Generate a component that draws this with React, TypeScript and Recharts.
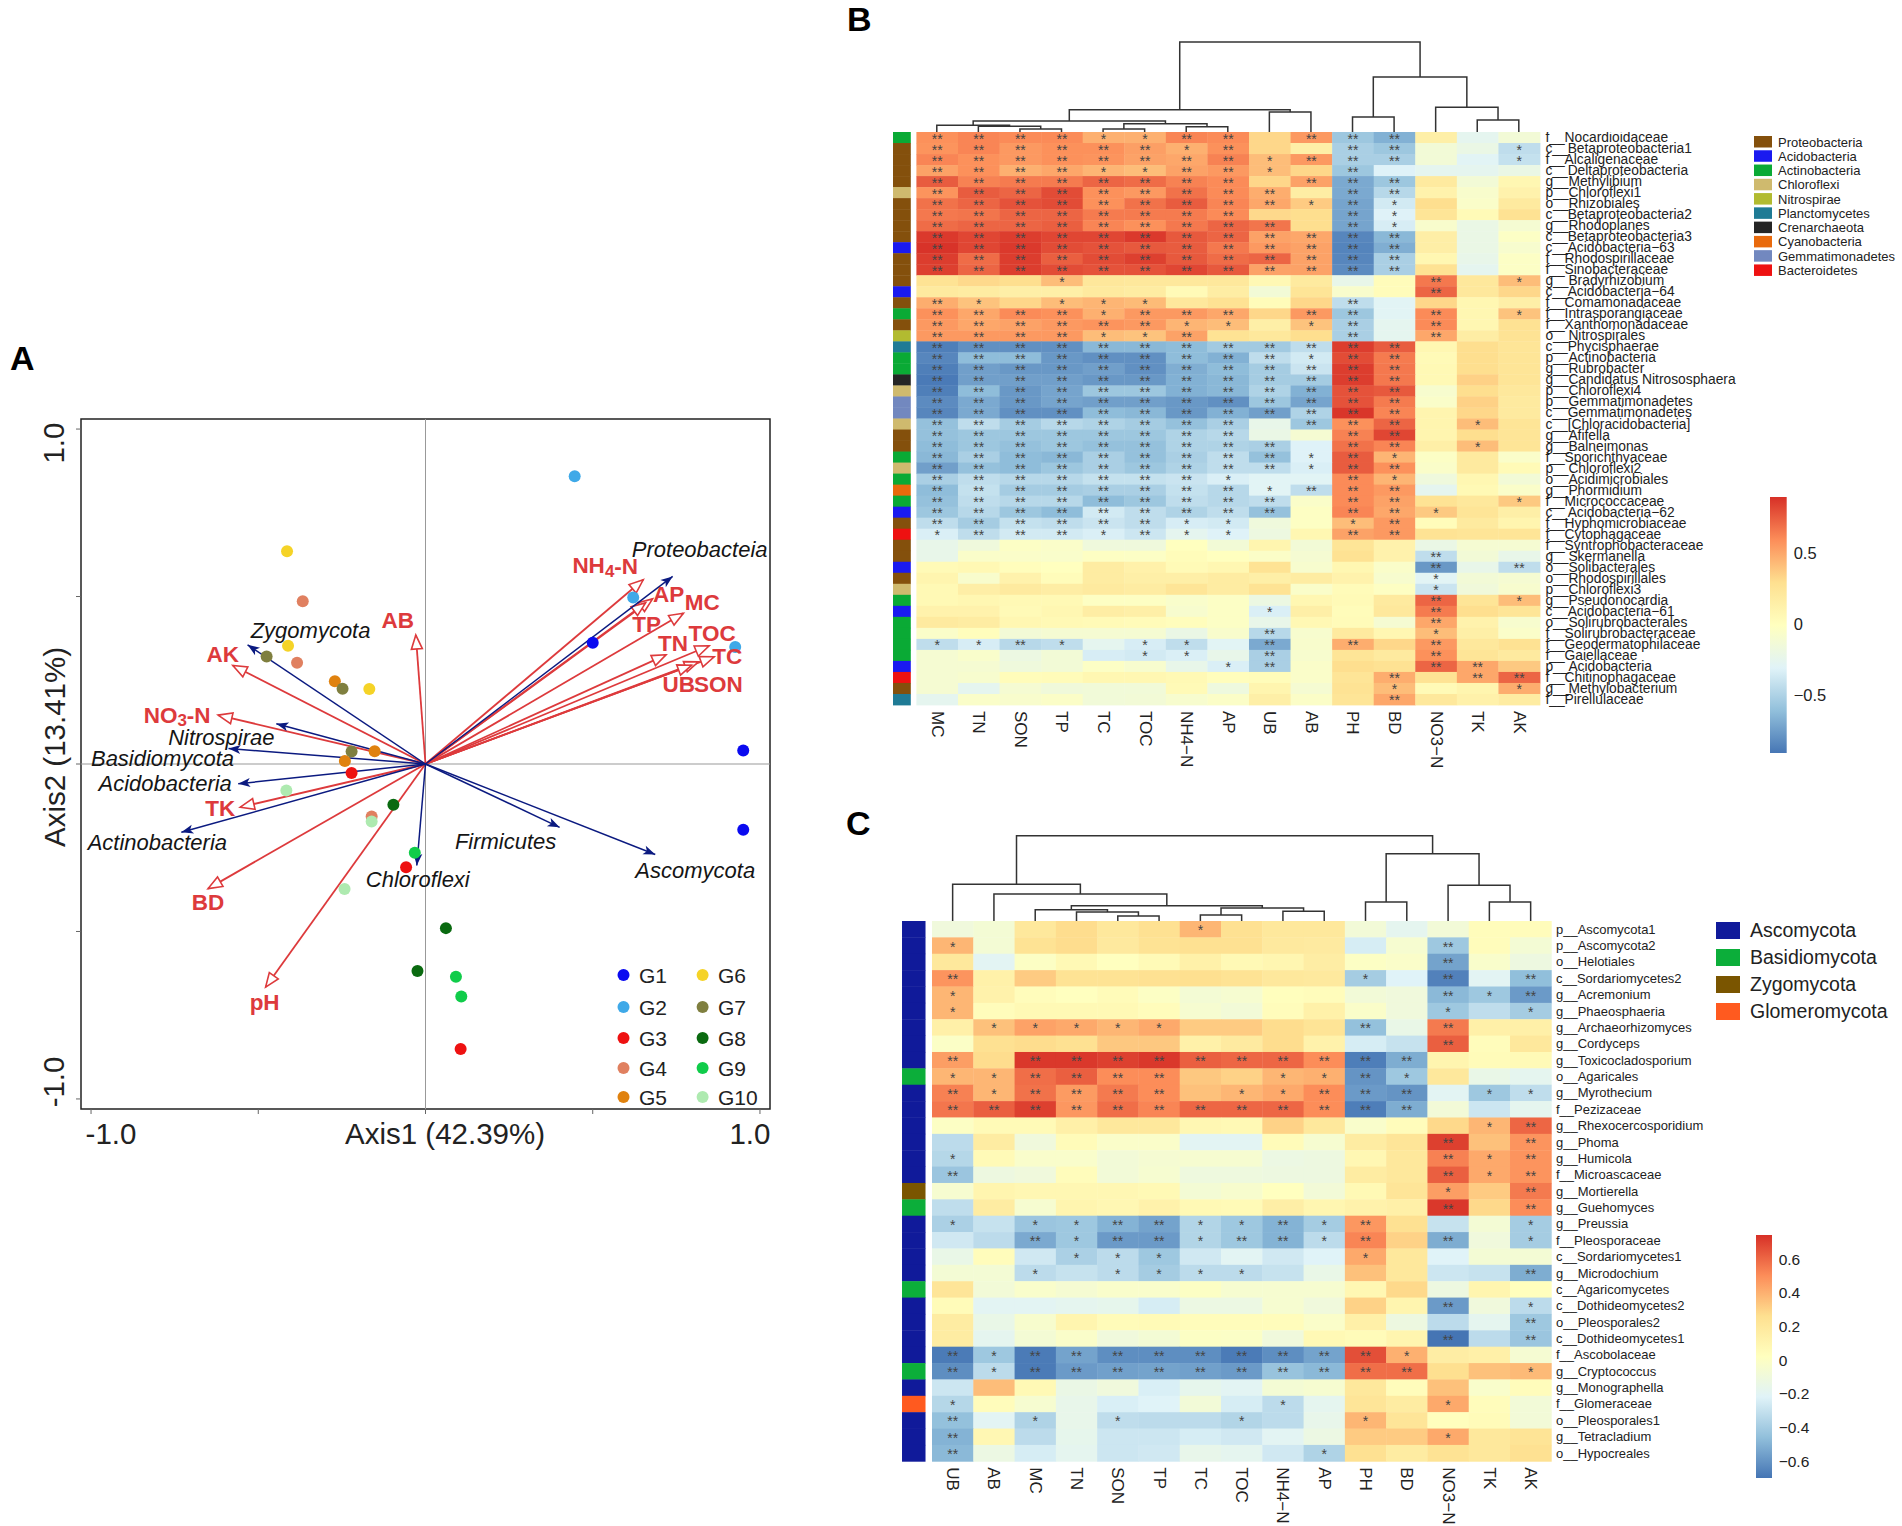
import { ScatterChart, Scatter, XAxis, YAxis, ReferenceLine, ReferenceArea } from "recharts";

const FONT = "'Liberation Sans', Arial, sans-serif";
const PALETTE = ["#4575B4", "#91BFDB", "#E0F3F8", "#FFFFBF", "#FEE090", "#FC8D59", "#D73027"];

// ---- panel A: ordination ----
const groups = ["G1", "G2", "G3", "G4", "G5", "G6", "G7", "G8", "G9", "G10"];
const groupColors = ["#0a0af0", "#3fa9e8", "#ee1111", "#e08060", "#e0820f", "#f5d327", "#7f7f3f", "#0a6a10", "#10cc4a", "#aeeab0"];
const groupX = [
  [0.5, 0.95, 0.95],
  [0.446, 0.621, 0.926],
  [-0.221, -0.058, 0.105],
  [-0.367, -0.384, -0.161],
  [-0.271, -0.152, -0.241],
  [-0.414, -0.411, -0.168],
  [-0.475, -0.248, -0.221],
  [-0.096, 0.061, -0.024],
  [-0.032, 0.091, 0.107],
  [-0.416, -0.161, -0.242],
];
const groupY = [
  [0.362, 0.04, -0.196],
  [0.859, 0.497, 0.349],
  [-0.027, -0.308, -0.851],
  [0.486, 0.302, -0.157],
  [0.247, 0.038, 0.009],
  [0.635, 0.353, 0.224],
  [0.321, 0.225, 0.037],
  [-0.122, -0.49, -0.618],
  [-0.265, -0.635, -0.694],
  [-0.079, -0.172, -0.373],
];

const envNames = ["NH4-N", "AP", "TP", "MC", "TOC", "TN", "TC", "SON", "UB", "AB", "AK", "NO3-N", "TK", "BD", "pH"];
const envX = [0.651, 0.679, 0.658, 0.771, 0.848, 0.719, 0.863, 0.816, 0.796, -0.029, -0.576, -0.62, -0.554, -0.65, -0.478];
const envY = [0.55, 0.493, 0.481, 0.45, 0.353, 0.326, 0.32, 0.305, 0.295, 0.385, 0.294, 0.146, -0.129, -0.372, -0.666];

const taxaNames = ["Proteobacteia", "Zygomycota", "Nitrospirae", "Basidiomycota", "Acidobacteria", "Actinobacteria", "Chloroflexi", "Firmicutes", "Ascomycota"];
const taxaX = [0.739, -0.532, -0.446, -0.589, -0.56, -0.73, -0.026, 0.401, 0.687];
const taxaY = [0.56, 0.356, 0.12, 0.046, -0.059, -0.204, -0.303, -0.189, -0.27];

// label nudges from the arrow tip, px
const LABEL_NUDGE: Record<string, number[]> = {
  "NH4-N": [-38, -14], AP: [16, -4], TP: [1, 22], MC: [19, -11], TOC: [3, -12], TN: [7, -11], TC: [13, 0], SON: [20, 23], UB: [-13, 19],
  AB: [-18, -15], AK: [-10, -11], "NO3-N": [-41, 0], TK: [-20, 1], BD: [0, 14], pH: [-1, 15],
  Proteobacteia: [27, -27], Zygomycota: [63, -14], Nitrospirae: [-55, 14], Basidiomycota: [-66, 10], Acidobacteria: [-73, 0],
  Actinobacteria: [-24, 10], Chloroflexi: [1, 14], Firmicutes: [-54, 14], Ascomycota: [40, 16],
};

// ---- panel B ----
const colsB = ["MC", "TN", "SON", "TP", "TC", "TOC", "NH4−N", "AP", "UB", "AB", "PH", "BD", "NO3−N", "TK", "AK"];
const rowsB = [
  "f__Nocardioidaceae", "c__Betaproteobacteria1", "f__Alcaligenaceae", "c__Deltaproteobacteria", "g__Methylibium", "p__Chloroflexi1", "o__Rhizobiales",
  "c__Betaproteobacteria2", "g__Rhodoplanes", "c__Betaproteobacteria3", "c__Acidobacteria−63", "f__Rhodospirillaceae", "f__Sinobacteraceae", "g__Bradyrhizobium",
  "c__Acidobacteria−64", "f__Comamonadaceae", "f__Intrasporangiaceae", "f__Xanthomonadaceae", "o__Nitrospirales", "c__Phycisphaerae", "p__Actinobacteria",
  "g__Rubrobacter", "g__Candidatus Nitrososphaera", "p__Chloroflexi4", "p__Gemmatimonadetes", "c__Gemmatimonadetes", "c__[Chloracidobacteria]", "g__Afifella",
  "g__Balneimonas", "f__Sporichthyaceae", "p__Chloroflexi2", "o__Acidimicrobiales", "g__Phormidium", "f__Micrococcaceae", "c__Acidobacteria−62", "f__Hyphomicrobiaceae",
  "f__Cytophagaceae", "f__Syntrophobacteraceae", "g__Skermanella", "o__Solibacterales", "o__Rhodospirillales", "p__Chloroflexi3", "g__Pseudonocardia", "c__Acidobacteria−61",
  "o__Solirubrobacterales", "f__Solirubrobacteraceae", "f__Geodermatophilaceae", "f__Gaiellaceae", "p__Acidobacteria", "f__Chitinophagaceae", "g__Methylobacterium", "f__Pirellulaceae",
];
const valuesB = [
  [.58, .62, .6, .6, .47, .47, .62, .6, .33, .55, -.55, -.65, .15, -.25, -.12],
  [.57, .62, .55, .58, .58, .53, .47, .58, .33, .15, -.5, -.55, -.12, -.2, -.42],
  [.62, .58, .55, .58, .57, .52, .5, .63, .42, .55, -.5, -.5, -.12, -.28, -.4],
  [.52, .58, .47, .5, .45, .42, .52, .55, .42, .33, -.55, -.3, -.25, -.25, -.2],
  [.75, .63, .65, .65, .72, .7, .63, .6, .33, .52, -.68, -.55, .2, -.12, .08],
  [.57, .75, .72, .8, .58, .55, .68, .6, .48, .17, -.68, -.45, .12, -.07, .12],
  [.68, .72, .78, .8, .58, .68, .75, .62, .5, .37, -.7, -.35, .3, -.05, .2],
  [.66, .67, .72, .72, .65, .65, .65, .6, .32, .3, -.7, -.3, .25, .05, .28],
  [.7, .72, .72, .74, .62, .58, .66, .72, .67, .3, -.7, -.33, -.07, -.2, -.1],
  [.86, .82, .85, .82, .82, .86, .76, .72, .52, .5, -.82, -.62, .16, -.2, -.03],
  [.88, .82, .86, .8, .78, .76, .75, .66, .55, .52, -.83, -.66, .16, -.2, -.08],
  [.85, .7, .85, .74, .8, .84, .76, .7, .72, .52, -.82, -.5, .08, -.22, -.03],
  [.84, .72, .85, .8, .78, .78, .82, .76, .52, .52, -.8, -.5, .28, -.25, -.03],
  [.27, .32, .3, .42, .23, .22, .22, .22, .07, .2, -.22, .03, .66, .22, .42],
  [.2, .18, .15, .15, .2, .18, .05, .17, -.12, .25, -.07, .03, .72, .22, .33],
  [.48, .4, .33, .42, .45, .43, .22, .28, .03, .33, -.42, -.28, .33, .08, .15],
  [.58, .5, .6, .58, .47, .55, .55, .5, .33, .55, -.55, -.28, .6, .08, .4],
  [.55, .5, .52, .55, .57, .55, .45, .42, .15, .4, -.5, -.25, .6, .08, .28],
  [.55, .55, .55, .55, .42, .4, .52, .27, .22, .3, -.5, -.25, .5, .17, .27],
  [-.85, -.78, -.78, -.78, -.62, -.62, -.6, -.53, -.53, -.42, .85, .75, .08, .3, .25],
  [-.82, -.6, -.6, -.75, -.78, -.78, -.6, -.65, -.42, -.35, .8, .65, .05, .3, .25],
  [-.85, -.72, -.75, -.75, -.72, -.78, -.66, -.6, -.52, -.38, .85, .66, .06, .3, .25],
  [-.87, -.72, -.72, -.72, -.75, -.75, -.65, -.62, -.52, -.52, .85, .66, .06, .35, .25],
  [-.85, -.6, -.75, -.7, -.55, -.55, -.65, -.62, -.48, -.65, .78, .76, -.08, .3, .22],
  [-.8, -.68, -.75, -.7, -.72, -.72, -.75, -.78, -.55, -.7, .78, .65, -.05, .35, .2],
  [-.82, -.68, -.78, -.78, -.6, -.62, -.75, -.65, -.72, -.48, .87, .62, .1, .33, .2],
  [-.58, -.42, -.52, -.45, -.48, -.52, -.58, -.5, -.22, -.55, .58, .72, .1, .42, .25],
  [-.58, -.55, -.55, -.55, -.55, -.55, -.48, -.45, -.2, -.1, .63, .82, .1, .3, .25],
  [-.6, -.55, -.58, -.55, -.58, -.58, -.48, -.48, -.5, -.3, .68, .62, .15, .42, .25],
  [-.62, -.5, -.6, -.62, -.5, -.58, -.5, -.42, -.58, -.3, .75, .45, -.03, .2, -.05],
  [-.72, -.58, -.6, -.55, -.5, -.55, -.48, -.42, -.42, -.32, .75, .58, -.05, .2, .05],
  [-.5, -.42, -.45, -.45, -.4, -.4, -.38, -.32, -.28, -.28, .6, .45, -.15, .08, -.12],
  [-.6, -.4, -.52, -.52, -.5, -.5, -.4, -.45, -.28, -.42, .6, .55, -.25, .06, -.05],
  [-.58, -.42, -.45, -.45, -.6, -.55, -.42, -.45, -.42, -.05, .6, .52, .27, .22, .38],
  [-.55, -.45, -.55, -.6, -.35, -.42, -.48, -.42, -.58, -.02, .62, .5, .38, .25, .15],
  [-.42, -.52, -.4, -.42, -.38, -.42, -.33, -.35, -.15, -.02, .42, .55, .03, .2, .1],
  [-.32, -.42, -.35, -.35, -.32, -.37, -.25, -.3, -.17, .08, .52, .55, .27, .25, .25],
  [-.22, -.15, -.03, -.05, -.15, -.15, 0, -.12, .1, -.12, .25, .12, -.2, -.1, -.1],
  [-.22, -.05, -.05, -.06, -.02, -.03, .03, 0, -.04, -.1, .28, .12, -.42, -.12, -.22],
  [.05, .07, .02, 0, .18, .13, .05, .08, .27, -.08, .08, -.05, -.75, -.22, -.42],
  [.1, -.07, .12, .03, .18, .15, .15, .18, .15, .18, .12, -.08, -.28, -.12, -.1],
  [.06, .16, .2, .17, .2, .18, .25, .18, .27, -.05, .04, -.02, -.38, -.14, -.08],
  [.06, .08, .06, .06, -.02, -.02, -.06, -.03, -.18, .08, .05, .2, .72, .25, .42],
  [.12, .12, .05, .08, .17, .15, -.08, -.03, -.32, .15, .03, .22, .65, .3, .25],
  [.2, .18, .08, .06, .05, .04, .02, -.03, -.22, .07, .04, -.1, .5, .12, -.08],
  [-.05, .02, -.12, -.1, -.1, -.1, -.2, -.07, -.45, -.08, .2, .08, .42, .15, -.05],
  [-.42, -.33, -.45, -.42, -.25, -.33, -.42, -.28, -.68, -.07, .48, .33, .55, .22, .28],
  [-.1, -.06, -.18, -.12, -.33, -.35, -.32, -.22, -.5, -.08, .25, .2, .58, .25, .2],
  [-.1, -.1, -.15, -.12, -.03, -.08, -.22, -.32, -.5, -.05, .3, .28, .72, .5, .38],
  [-.1, -.08, .03, .04, .08, .08, .06, .02, .03, -.05, .25, .48, .27, .5, .72],
  [-.1, -.25, -.1, -.14, -.13, -.13, .05, -.16, .1, -.1, .27, .42, .05, .1, .48],
  [-.25, -.05, -.07, -.04, -.13, -.12, -.08, -.04, .15, -.04, .25, .5, .22, .13, .18],
];
// 0 none, 1 *, 2 **
const starsB = [
  "222211220222000", "222222120022001", "222222221222001", "222211221020000", "222222220222000", "222222222022000", "222222222121000", "222222220021000",
  "222222222021000", "222222222222000", "222222222222000", "222222222222000", "222222222222000", "000100000000201", "000000000000200", "210111000020000",
  "222212220220201", "222222110120200", "222211200020200", "222222222222000", "222222222122000", "222222222222000", "222222222222000", "222222222222000",
  "222222222222000", "222222222222000", "222222220222010", "222222220022000", "222222222022010", "222222222121000", "222222222122000", "222222210021000",
  "222222221222000", "222222222022001", "222222222022100", "222222110012000", "122212110022000", "000000000000000", "000000000000200", "000000000000202",
  "000000000000100", "000000000000100", "000000000000201", "000000001000200", "000000000000200", "000000002000100", "112101102020200", "000001102000200",
  "000000012000220", "000000000002022", "000000000001001", "000000000002000",
];
const phylaB = ["Proteobacteria", "Acidobacteria", "Actinobacteria", "Chloroflexi", "Nitrospirae", "Planctomycetes", "Crenarchaeota", "Cyanobacteria", "Gemmatimonadetes", "Bacteroidetes"];
const phylaBColors = ["#84500c", "#1a1af0", "#0aaa35", "#cfba6e", "#b2bb30", "#1f7b95", "#252525", "#e96a0c", "#7288bf", "#ee1111"];
// index into phylaB for every row
const rowPhylaB = [2, 0, 0, 0, 0, 3, 0, 0, 0, 0, 1, 0, 0, 0, 1, 0, 2, 0, 4, 5, 2, 2, 6, 3, 8, 8, 3, 0, 0, 2, 3, 2, 7, 2, 1, 0, 9, 0, 0, 1, 0, 3, 2, 1, 2, 2, 2, 2, 1, 9, 0, 5];
// [left, right, height]; refs under 15 are columns, the rest earlier merges
const mergesB = [[2, 3, 3], [1, 15, 5.7], [0, 16, 6.7], [4, 5, 3], [6, 7, 5.3], [18, 19, 8.3], [17, 20, 11], [8, 9, 20], [21, 22, 22.3], [10, 11, 15], [13, 14, 12], [12, 25, 24.7], [24, 26, 55], [23, 27, 90]];

// ---- panel C ----
const colsC = ["UB", "AB", "MC", "TN", "SON", "TP", "TC", "TOC", "NH4−N", "AP", "PH", "BD", "NO3−N", "TK", "AK"];
const rowsC = [
  "p__Ascomycota1", "p__Ascomycota2", "o__Helotiales", "c__Sordariomycetes2", "g__Acremonium", "g__Phaeosphaeria", "g__Archaeorhizomyces", "g__Cordyceps", "g__Toxicocladosporium",
  "o__Agaricales", "g__Myrothecium", "f__Pezizaceae", "g__Rhexocercosporidium", "g__Phoma", "g__Humicola", "f__Microascaceae", "g__Mortierella", "g__Guehomyces", "g__Preussia",
  "f__Pleosporaceae", "c__Sordariomycetes1", "g__Microdochium", "c__Agaricomycetes", "c__Dothideomycetes2", "o__Pleosporales2", "c__Dothideomycetes1", "f__Ascobolaceae",
  "g__Cryptococcus", "g__Monographella", "f__Glomeraceae", "o__Pleosporales1", "g__Tetracladium", "o__Hypocreales",
];
const valuesC = [
  [-.1, -.07, .2, .27, .2, .25, .38, .25, .2, .2, -.08, -.18, -.08, .04, .04],
  [.38, -.07, .24, .27, .19, .24, .25, .25, .19, .18, -.25, -.05, -.42, .04, -.07],
  [.2, -.2, 0, .07, .02, .06, .13, .07, .09, .16, 0, -.02, -.55, -.03, -.12],
  [.48, .13, .32, .24, .24, .25, .26, .24, .2, .19, -.4, -.22, -.66, -.2, -.46],
  [.38, .12, .04, .02, .05, 0, -.07, -.05, .03, .04, -.08, -.1, -.48, -.42, -.58],
  [.38, .04, .07, .07, .07, .04, -.05, -.08, .04, .13, -.02, -.1, -.42, -.32, -.4],
  [.14, .35, .44, .42, .38, .42, .32, .32, .27, .23, -.45, -.15, .55, .14, .14],
  [-.01, .25, .27, .25, .33, .33, .13, .18, .27, .12, -.25, -.3, .62, .04, .2],
  [.45, .27, .72, .72, .7, .72, .62, .6, .6, .5, -.67, -.52, .1, .05, .06],
  [.38, .38, .58, .62, .5, .5, .33, .3, .38, .4, -.6, -.42, .2, -.15, -.18],
  [.53, .38, .57, .46, .55, .5, .35, .38, .42, .5, -.58, -.6, -.2, -.42, -.32],
  [.56, .62, .7, .47, .58, .52, .6, .6, .6, .5, -.67, -.52, -.08, -.28, -.18],
  [0, .06, .06, .14, .2, .2, .08, .07, .3, .2, -.03, .04, .28, .38, .6],
  [-.33, .17, -.1, .05, -.02, -.02, -.2, -.2, .05, -.05, .17, .22, .7, .35, .48],
  [-.35, .06, -.03, -.03, -.08, -.06, -.05, -.05, -.13, -.12, .08, .2, .53, .42, .48],
  [-.43, -.12, -.1, .04, -.08, -.05, -.11, -.11, -.12, -.12, .17, .2, .62, .42, .48],
  [-.05, .1, .08, .08, .08, .07, -.07, -.04, .02, -.08, .07, .22, .45, .32, .55],
  [-.32, .17, -.05, .1, .08, .12, .07, .06, .15, .09, .12, .14, .72, .28, .5],
  [-.38, -.3, -.43, -.42, -.5, -.55, -.36, -.42, -.5, -.4, .47, .25, -.3, -.07, -.4],
  [-.27, -.33, -.53, -.42, -.58, -.58, -.36, -.42, -.5, -.33, .52, .3, -.52, -.1, -.4],
  [-.15, .04, -.27, -.38, -.33, -.42, -.27, -.2, -.27, -.22, .42, .2, -.22, -.07, -.07],
  [-.07, -.07, -.33, -.3, -.33, -.4, -.33, -.33, -.3, -.15, .35, .2, -.28, -.3, -.52],
  [.22, -.08, -.03, -.06, -.03, -.03, 0, -.05, -.05, -.05, .08, .28, -.12, .1, .03],
  [.05, -.2, -.2, -.18, -.17, -.25, -.13, -.13, -.05, -.1, .3, .1, -.58, -.1, -.33],
  [.17, -.15, -.04, .1, .05, .06, .04, .04, .04, -.02, .14, -.12, -.33, -.18, -.42],
  [.17, -.18, -.07, -.02, -.1, -.07, 0, -.01, -.1, .07, .05, .1, -.7, -.33, -.43],
  [-.68, -.42, -.68, -.55, -.62, -.62, -.62, -.68, -.62, -.55, .66, .4, .16, .14, -.06],
  [-.62, -.33, -.68, -.58, -.56, -.55, -.56, -.58, -.44, -.48, .58, .58, .26, .35, .37],
  [-.28, .36, .07, -.14, -.1, -.24, -.17, -.2, -.07, -.05, .2, .04, .35, -.03, .04],
  [-.35, .04, -.05, -.16, -.24, -.22, -.08, -.25, -.33, -.18, .22, .17, .42, .04, -.08],
  [-.45, -.2, -.37, -.16, -.32, -.33, -.33, -.36, -.33, -.16, .38, .22, .03, .05, -.08],
  [-.5, .08, -.33, -.17, -.28, -.28, -.25, -.27, -.2, -.13, .32, .32, .42, .2, .23],
  [-.48, -.13, -.25, -.18, -.28, -.27, -.16, -.18, -.27, -.37, .25, .17, .24, .2, .25],
];
const starsC = [
  "000000100000000", "100000000000200", "000000000000200", "200000000010202", "100000000000212", "100000000000101", "011111000020200", "000000000000200", "202222222222000",
  "112222001121000", "212222011222011", "222222222222000", "000000000000012", "000000000000202", "100000000000212", "200000000000212", "000000000000102", "000000000000202",
  "101122112120001", "002122122120201", "000111000010000", "001011110000002", "000000000000000", "000000000000201", "000000000000002", "000000000000202",
  "212222222221000", "212222222222001", "000000000000000", "100000001000100", "201010010010000", "200000000000100", "200000000100000",
];
const phylaC = ["Ascomycota", "Basidiomycota", "Zygomycota", "Glomeromycota"];
const phylaCColors = ["#101a9a", "#0cae3a", "#7a5500", "#ff5a1f"];
const rowPhylaC = [0, 0, 0, 0, 0, 0, 0, 0, 0, 1, 0, 0, 0, 0, 0, 0, 2, 1, 0, 0, 0, 0, 1, 0, 0, 0, 0, 1, 0, 3, 0, 0, 0];
const mergesC = [[4, 5, 5], [3, 15, 9], [2, 16, 11.3], [6, 7, 6], [8, 9, 9.7], [18, 19, 13], [17, 20, 15.3], [1, 21, 27], [0, 22, 36.7], [10, 11, 19], [13, 14, 19], [12, 25, 35.7], [24, 26, 67.3], [23, 27, 85.3]];

const ticksB = [-0.5, 0, 0.5];
const ticksC = [-0.6, -0.4, -0.2, 0, 0.2, 0.4, 0.6];

function colorFor(v: number, lo: number, hi: number) {
  const t = Math.max(0, Math.min(0.9999, (v - lo) / (hi - lo))) * (PALETTE.length - 1);
  const i = Math.floor(t);
  const f = t - i;
  const a = PALETTE[i];
  const b = PALETTE[i + 1];
  const mix = (p: number) => Math.round(parseInt(a.slice(p, p + 2), 16) * (1 - f) + parseInt(b.slice(p, p + 2), 16) * f);
  return `rgb(${mix(1)},${mix(3)},${mix(5)})`;
}

function buildCells(values: number[][], stars: string[]) {
  const cells: any[] = [];
  values.forEach((row, r) => row.forEach((value, c) => cells.push({ x: c + 0.5, y: r + 0.5, value, star: "*".repeat(Number(stars[r][c])) })));
  return cells;
}

function dendroLines(merges: number[][]) {
  const nodes: { x: number; h: number }[] = [];
  for (let i = 0; i < 15; i++) nodes.push({ x: i + 0.5, h: 0 });
  return merges.map(([l, r, h]) => {
    const a = nodes[l];
    const b = nodes[r];
    nodes.push({ x: (a.x + b.x) / 2, h });
    return [{ x: a.x, y: a.h }, { x: a.x, y: h }, { x: b.x, y: h }, { x: b.x, y: b.h }];
  });
}

function Dendro({ left, top, width, height, merges }: any) {
  return (
    <div style={{ position: "absolute", left, top }}>
      <ScatterChart width={width} height={height} margin={{ top: 0, right: 0, bottom: 0, left: 0 }}>
        <XAxis hide type="number" dataKey="x" domain={[0, 15]} />
        <YAxis hide type="number" dataKey="y" domain={[0, height]} />
        {dendroLines(merges).map((pts, i) => (
          <Scatter key={i} data={pts} line={{ stroke: "#333", strokeWidth: 1.5 }} shape={() => <g />} isAnimationActive={false} />
        ))}
      </ScatterChart>
    </div>
  );
}

function Heatmap({ left, top, plotW, plotH, colW, xMin, annotX, annotW, cols, rows, values, stars, rowPhyla, phylaColors, lo, hi, labelDx, xLabelDy, rowFont, colFont }: any) {
  const rowH = plotH / rows.length;
  const cells = buildCells(values, stars);
  const annot = rowPhyla.map((p: number, r: number) => ({ x: annotX, y: r + 0.5, fill: phylaColors[p] }));
  return (
    <div style={{ position: "absolute", left, top }}>
      <ScatterChart width={plotW + 320} height={plotH + 90} margin={{ top: 0, right: 0, bottom: 0, left: 0 }}>
        <XAxis
          type="number"
          dataKey="x"
          domain={[xMin, 15]}
          ticks={cols.map((_: string, i: number) => i + 0.5)}
          interval={0}
          height={90}
          axisLine={false}
          tickLine={false}
          tick={(p: any) => (
            <text key={p.index} transform={`rotate(90 ${p.x} ${p.y + xLabelDy})`} x={p.x} y={p.y + xLabelDy} fontSize={colFont} fontFamily={FONT} fill="#222" dominantBaseline="central">
              {cols[p.payload.value - 0.5]}
            </text>
          )}
        />
        <YAxis
          type="number"
          dataKey="y"
          orientation="right"
          reversed
          domain={[0, rows.length]}
          ticks={rows.map((_: string, i: number) => i + 0.5)}
          interval={0}
          width={320}
          axisLine={false}
          tickLine={false}
          tick={(p: any) => (
            <text key={p.index} x={p.x + labelDx} y={p.y} fontSize={rowFont} fontFamily={FONT} fill="#222" dominantBaseline="central">
              {rows[p.payload.value - 0.5]}
            </text>
          )}
        />
        <Scatter
          data={annot}
          isAnimationActive={false}
          shape={(p: any) => <rect x={p.cx - annotW / 2} y={p.cy - rowH / 2} width={annotW} height={rowH + 0.4} fill={p.payload.fill} />}
        />
        <Scatter
          data={cells}
          isAnimationActive={false}
          shape={(p: any) => <rect x={p.cx - colW / 2} y={p.cy - rowH / 2} width={colW + 0.4} height={rowH + 0.4} fill={colorFor(p.payload.value, lo, hi)} />}
        />
        <Scatter
          data={cells.filter((c) => c.star)}
          isAnimationActive={false}
          shape={(p: any) => (
            <text x={p.cx} y={p.cy + 6} textAnchor="middle" fontSize={14} fontFamily={FONT} fill="#444">
              {p.payload.star}
            </text>
          )}
        />
      </ScatterChart>
    </div>
  );
}

function ColorBar({ id, left, top, width, height, lo, hi, ticks, fontSize, labelDx }: any) {
  return (
    <div style={{ position: "absolute", left, top }}>
      <svg width={0} height={0} style={{ position: "absolute" }}>
        <defs>
          <linearGradient id={id} x1="0" y1="1" x2="0" y2="0">
            {PALETTE.map((c, i) => (
              <stop key={c} offset={i / (PALETTE.length - 1)} stopColor={c} />
            ))}
          </linearGradient>
        </defs>
      </svg>
      <ScatterChart width={width + 60} height={height} margin={{ top: 0, right: 0, bottom: 0, left: 0 }}>
        <XAxis hide type="number" dataKey="x" domain={[0, 1]} allowDataOverflow />
        <YAxis
          type="number"
          dataKey="y"
          orientation="right"
          width={60}
          domain={[lo, hi]}
          ticks={ticks}
          interval={0}
          axisLine={false}
          tickLine={false}
          allowDataOverflow
          tick={(p: any) => (
            <text key={p.index} x={p.x + labelDx} y={p.y} fontSize={fontSize} fontFamily={FONT} fill="#222" dominantBaseline="central">
              {String(p.payload.value).replace("-", "−")}
            </text>
          )}
        />
        <Scatter data={[{ x: 0, y: lo }, { x: 1, y: hi }]} shape={() => <g />} isAnimationActive={false} />
        <ReferenceArea x1={0} x2={1} y1={lo} y2={hi} fill={`url(#${id})`} fillOpacity={1} stroke="none" />
      </ScatterChart>
    </div>
  );
}

function envShape(p: any) {
  if (p.payload.origin) return <g />;
  const deg = (Math.atan2(-p.payload.y, p.payload.x) * 180) / Math.PI;
  return <polygon transform={`translate(${p.cx} ${p.cy}) rotate(${deg})`} points="0,0 -14,-5.5 -14,5.5" fill="#fff" stroke="#dd3a3c" strokeWidth={1.6} />;
}

function taxaShape(p: any) {
  if (p.payload.origin) return <g />;
  const deg = (Math.atan2(-p.payload.y, p.payload.x) * 180) / Math.PI;
  return <polygon transform={`translate(${p.cx} ${p.cy}) rotate(${deg})`} points="0,0 -12,-4.5 -9,0 -12,4.5" fill="#0b1a80" />;
}

function labelShape(p: any) {
  const [dx, dy] = LABEL_NUDGE[p.payload.name];
  const parts = p.payload.name.match(/^(\D+)(\d)(.*)$/);
  const common = { x: p.cx + dx, y: p.cy + dy, textAnchor: "middle" as const, dominantBaseline: "central" as const, fontFamily: FONT };
  if (p.payload.kind === "taxa") {
    return <text {...common} fontSize={22} fontStyle="italic" fill="#151515">{p.payload.name}</text>;
  }
  return (
    <text {...common} fontSize={22.5} fontWeight="bold" fill="#dd3a3c">
      {parts ? (
        <>
          {parts[1]}
          <tspan dy={5} fontSize={17}>{parts[2]}</tspan>
          <tspan dy={-5}>{parts[3]}</tspan>
        </>
      ) : (
        p.payload.name
      )}
    </text>
  );
}

function PanelA() {
  const envLabels = envNames.map((name, i) => ({ name, x: envX[i], y: envY[i], kind: "env" }));
  const taxaLabels = taxaNames.map((name, i) => ({ name, x: taxaX[i], y: taxaY[i], kind: "taxa" }));
  return (
    <div style={{ position: "absolute", left: 0, top: 400 }}>
      <ScatterChart width={790} height={770} margin={{ top: 19, right: 20, bottom: 0, left: 0 }}>
        <XAxis
          type="number"
          dataKey="x"
          domain={[-1.03, 1.03]}
          ticks={[-1, -0.5, 0, 0.5, 1]}
          interval={0}
          height={61}
          axisLine={false}
          tickSize={5}
          tick={(p: any) =>
            Math.abs(p.payload.value) === 1 ? (
              <text key={p.index} x={p.x + (p.payload.value < 0 ? 20 : -10)} y={p.y + 28} textAnchor="middle" fontSize={29.5} fontFamily={FONT} fill="#222">
                {p.payload.value < 0 ? "-1.0" : "1.0"}
              </text>
            ) : (
              <g key={p.index} />
            )
          }
        />
        <YAxis
          type="number"
          dataKey="y"
          domain={[-1.03, 1.03]}
          ticks={[-1, -0.5, 0, 0.5, 1]}
          interval={0}
          width={81}
          axisLine={false}
          tickSize={5}
          tick={(p: any) => {
            if (Math.abs(p.payload.value) !== 1) return <g key={p.index} />;
            const cy = p.y + (p.payload.value < 0 ? -17 : 14);
            return (
              <text key={p.index} transform={`rotate(-90 64 ${cy})`} x={64} y={cy} textAnchor="middle" fontSize={29.5} fontFamily={FONT} fill="#222">
                {p.payload.value < 0 ? "-1.0" : "1.0"}
              </text>
            );
          }}
        />
        <ReferenceLine x={0} stroke="#999" strokeWidth={1} />
        <ReferenceLine y={0} stroke="#999" strokeWidth={1} />
        <ReferenceArea x1={-1.03} x2={1.03} y1={-1.03} y2={1.03} fill="none" stroke="#222" strokeWidth={1.5} />
        {envNames.map((name, i) => (
          <Scatter
            key={name}
            data={[{ x: 0, y: 0, origin: true }, { x: envX[i], y: envY[i] }]}
            line={{ stroke: "#dd3a3c", strokeWidth: 1.8 }}
            shape={envShape}
            isAnimationActive={false}
          />
        ))}
        {taxaNames.map((name, i) => (
          <Scatter
            key={name}
            data={[{ x: 0, y: 0, origin: true }, { x: taxaX[i], y: taxaY[i] }]}
            line={{ stroke: "#0b1a80", strokeWidth: 1.5 }}
            shape={taxaShape}
            isAnimationActive={false}
          />
        ))}
        {groups.map((g, i) => (
          <Scatter
            key={g}
            data={groupX[i].map((x, k) => ({ x, y: groupY[i][k] }))}
            isAnimationActive={false}
            shape={(p: any) => <circle cx={p.cx} cy={p.cy} r={6} fill={groupColors[i]} />}
          />
        ))}
        <Scatter data={envLabels} shape={labelShape} isAnimationActive={false} />
        <Scatter data={taxaLabels} shape={labelShape} isAnimationActive={false} />
      </ScatterChart>
    </div>
  );
}

function TextLayer() {
  const legendRows = [975, 1007, 1038, 1068, 1097];
  return (
    <svg width={1902} height={1526} style={{ position: "absolute", left: 0, top: 0, pointerEvents: "none" }} fontFamily={FONT}>
      <text x={10} y={370} fontSize={34} fontWeight="bold" fill="#000">A</text>
      <text x={847} y={31} fontSize={34} fontWeight="bold" fill="#000">B</text>
      <text x={846} y={835} fontSize={34} fontWeight="bold" fill="#000">C</text>
      <text x={445} y={1144} fontSize={29.5} textAnchor="middle" fill="#222">Axis1 (42.39%)</text>
      <text transform="rotate(-90 65 747)" x={65} y={747} fontSize={29.5} textAnchor="middle" fill="#222">Axis2 (13.41%)</text>
      {groups.map((g, i) => {
        const col = i < 5 ? 0 : 1;
        const y = legendRows[i % 5];
        return (
          <g key={g}>
            <circle cx={col ? 702.6 : 623.5} cy={y} r={6} fill={groupColors[i]} />
            <text x={col ? 718 : 639} y={y} fontSize={21} fill="#222" dominantBaseline="central">{g}</text>
          </g>
        );
      })}
      {phylaB.map((name, i) => (
        <g key={name}>
          <rect x={1754} y={136 + i * 14.27} width={18} height={11.5} fill={phylaBColors[i]} />
          <text x={1778} y={142 + i * 14.27} fontSize={13} fill="#222" dominantBaseline="central">{name}</text>
        </g>
      ))}
      {phylaC.map((name, i) => (
        <g key={name}>
          <rect x={1716} y={922 + i * 27} width={24} height={17} fill={phylaCColors[i]} />
          <text x={1750} y={930 + i * 27} fontSize={19.5} fill="#222" dominantBaseline="central">{name}</text>
        </g>
      ))}
    </svg>
  );
}

export default function App() {
  return (
    <div style={{ position: "absolute", left: 0, top: 0, width: 1902, height: 1526, background: "#fff" }}>
      <PanelA />
      <Dendro left={916} top={40.3} width={623.6} height={92} merges={mergesB} />
      <Heatmap
        left={892.6} top={132.3} plotW={647} plotH={573} colW={41.57} xMin={-0.563} annotX={-0.349} annotW={17.8}
        cols={colsB} rows={rowsB} values={valuesB} stars={starsB} rowPhyla={rowPhylaB} phylaColors={phylaBColors}
        lo={-0.89} hi={0.89} labelDx={-2.6} xLabelDy={-2} rowFont={13.8} colFont={17}
      />
      <ColorBar id="gradB" left={1770} top={496.7} width={16.7} height={256.7} lo={-0.908} hi={0.89} ticks={ticksB} fontSize={16.5} labelDx={-1} />
      <Dendro left={932} top={830.7} width={619.3} height={90} merges={mergesC} />
      <Heatmap
        left={902} top={920.7} plotW={649.3} plotH={540.3} colW={41.29} xMin={-0.727} annotX={-0.442} annotW={23.5}
        cols={colsC} rows={rowsC} values={valuesC} stars={starsC} rowPhyla={rowPhylaC} phylaColors={phylaCColors}
        lo={-0.7} hi={0.74} labelDx={-3.3} xLabelDy={-2} rowFont={13} colFont={17}
      />
      <ColorBar id="gradC" left={1756} top={1235} width={16} height={243} lo={-0.7} hi={0.744} ticks={ticksC} fontSize={15.5} labelDx={-1.3} />
      <TextLayer />
    </div>
  );
}
